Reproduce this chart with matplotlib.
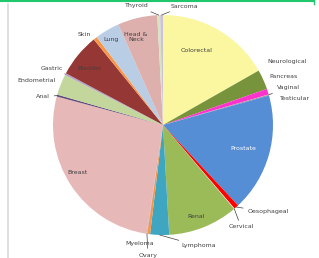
import numpy as np
import matplotlib
matplotlib.use('Agg')
import matplotlib.pyplot as plt
from matplotlib.lines import Line2D

plt.rcParams['font.family'] = ['DejaVu Sans']

# slice data (clockwise from 12 o'clock)
cancers = ['Colorectal', 'Neurological', 'Pancreas', 'Vaginal', 'Testicular',
           'Prostate', 'Oesophageal', 'Cervical', 'Renal', 'Lymphoma',
           'Myeloma', 'Ovary', 'Breast', 'Anal', 'Endometrial', 'Gastric',
           'Bladder', 'Skin', 'Lung', 'Head &\nNeck', 'Thyroid', 'Sarcoma']
values = [60.4, 10.5, 3.0, 0.3, 0.3,
          62.5, 2.5, 0.3, 37.0, 10.0,
          1.5, 0.3, 96.5, 1.0, 11.0, 1.0,
          23.0, 2.0, 13.0, 21.0, 1.5, 1.5]
colors = ['#FBF7A0', '#77933C', '#FF33CC', '#D99694', '#8064A2',
          '#558ED5', '#FF0000', '#F2DCDB', '#9BBB59', '#3FA6C2',
          '#F79646', '#B3A2C7', '#E6B9B8', '#604A7B', '#C3D69B', '#B3A2C7',
          '#953735', '#F79646', '#B9CDE5', '#DDB0AE', '#D7E4BD', '#CCC1DA']

# label layout in figure pixels (x, y from top), leader line flag
label_pos = {
    'Colorectal': (197, 50, False), 'Neurological': (287, 61, False),
    'Pancreas': (284, 76, False), 'Vaginal': (288, 88, True),
    'Testicular': (295, 99, False), 'Prostate': (243, 148, False),
    'Oesophageal': (268, 212, True), 'Cervical': (241, 227, True),
    'Renal': (196, 217, False), 'Lymphoma': (199, 246, True),
    'Myeloma': (140, 243, False), 'Ovary': (148, 255, True),
    'Breast': (78, 173, False), 'Anal': (43, 97, True),
    'Endometrial': (37, 80, False), 'Gastric': (52, 68, True),
    'Bladder': (90, 69, False), 'Skin': (84, 34, False),
    'Lung': (111, 40, False), 'Head &\nNeck': (136, 37, False),
    'Thyroid': (137, 6, True), 'Sarcoma': (184, 6, True),
}

W, H = 319, 258
fig = plt.figure(figsize=(W / 100, H / 100), dpi=100, facecolor='white')
cx, cy, R = 163, 125, 110
ax = fig.add_axes([(cx - R) / W, (H - cy - R) / H, 2 * R / W, 2 * R / H])

wedges, _ = ax.pie(values, colors=colors, startangle=90, counterclock=False,
                   wedgeprops=dict(linewidth=0))
ax.set_aspect('equal')
ax.set_xlim(-1, 1)
ax.set_ylim(-1, 1)

for w, name in zip(wedges, cancers):
    x, y, leader = label_pos[name]
    col = 'white' if name == 'Prostate' else '#404040'
    if leader:
        mid = np.deg2rad((w.theta1 + w.theta2) / 2)
        ax.annotate(name, xy=(np.cos(mid), np.sin(mid)), xytext=(x, H - y),
                    textcoords='figure pixels', ha='center', va='center',
                    fontsize=4.5, color=col, annotation_clip=False,
                    arrowprops=dict(arrowstyle='-', color='#404040', lw=0.5,
                                    shrinkA=1, shrinkB=0))
    else:
        fig.text(x / W, 1 - y / H, name, ha='center', va='center',
                 fontsize=4.5, color=col, linespacing=1.1)

# frame decorations
fig.add_artist(Line2D([0, 314 / W], [1 - 1 / H, 1 - 1 / H], color='#1FC86A', lw=1.5))
fig.add_artist(Line2D([314 / W, 314 / W], [1, 1 - 4 / H], color='#1FC86A', lw=1.0))
fig.add_artist(Line2D([8 / W, 8 / W], [0, 1 - 4 / H], color='#D9D9D9', lw=1.2))

fig.savefig('out.png', dpi=100, facecolor='white')
